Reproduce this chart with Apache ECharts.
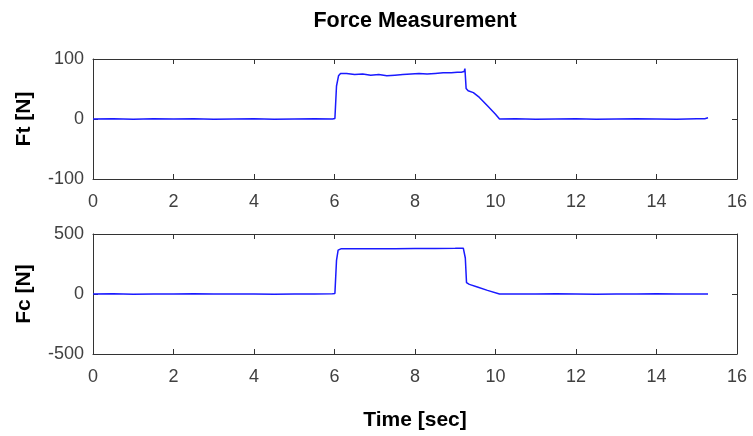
<!DOCTYPE html>
<html>
<head>
<meta charset="utf-8">
<script src="https://cdn.jsdelivr.net/npm/echarts@6/dist/echarts.min.js"></script>
<style>
html,body{margin:0;padding:0;background:#fff;}
#chart{width:753px;height:436px;}
</style>
</head>
<body>
<div id="chart"></div>
<script>
// ---- data ----
const titleText = 'Force Measurement';
const xLabel = 'Time [sec]';
const ftLabel = 'Ft [N]';
const fcLabel = 'Fc [N]';

const ftTime = [0, 0.5, 1, 1.5, 2, 2.5, 3, 3.5, 4, 4.5, 5, 5.5, 5.95, 6.01, 6.05, 6.1, 6.15, 6.3, 6.5, 6.7, 6.9, 7.1, 7.3, 7.5, 7.7, 7.9, 8.1, 8.3, 8.5, 8.7, 8.9, 9.05, 9.15, 9.22, 9.24, 9.27, 9.32, 9.45, 9.6, 9.8, 10.0, 10.1, 10.5, 11, 11.5, 12, 12.5, 13, 13.5, 14, 14.5, 15, 15.2, 15.28];
const ftValues = [0, 0.5, -0.5, 0.5, 0, 0.5, -0.5, 0, 0.5, -0.5, 0, 0.5, 0, 1, 55, 72, 76, 76, 74, 75, 73, 74, 72, 73, 74, 75, 76, 75, 76, 77, 77, 78, 78, 79, 84, 51, 47, 44, 36, 22, 8, 0, 0.5, -0.5, 0, 0.5, -0.5, 0, 0.5, 0, -0.5, 0.5, 0.5, 2];

const fcTime = [0, 0.5, 1, 1.5, 2, 2.5, 3, 3.5, 4, 4.5, 5, 5.5, 5.95, 6.01, 6.05, 6.09, 6.17, 6.5, 7, 7.5, 8, 8.5, 9, 9.2, 9.25, 9.28, 9.35, 9.55, 9.8, 10.1, 10.5, 11, 11.5, 12, 12.5, 13, 13.5, 14, 14.5, 15, 15.28];
const fcValues = [0, 2, -2, 1, 0, 2, -1, 1, 0, -2, 1, 0, 2, 5, 280, 365, 378, 377, 378, 377, 379, 380, 381, 382, 300, 95, 80, 58, 30, 0, 1, -1, 2, 0, -2, 1, 0, 2, -1, 1, 0];

const xTicks = [0, 2, 4, 6, 8, 10, 12, 14, 16];
const ftRange = [-100, 100];
const fcRange = [-500, 500];

// ---- chart ----
const axisColor = '#333333';
const labelColor = '#404040';
const lineColor = '#1a1aff';
const font = 'Liberation Sans, Arial, Helvetica, sans-serif';

function pairs(t, v) { return t.map((x, i) => [x, v[i]]); }

function xAx(grid, bottom, withLabels, name) {
  return {
    type: 'value', gridIndex: grid, position: bottom ? 'bottom' : 'top',
    min: xTicks[0], max: xTicks[xTicks.length - 1], interval: xTicks[1] - xTicks[0],
    axisLine: { show: true, onZero: false, lineStyle: { color: axisColor, width: 1 } },
    axisTick: { show: true, inside: true, length: 5, lineStyle: { color: axisColor } },
    axisLabel: { show: withLabels, color: labelColor, fontSize: 18, fontFamily: font, margin: 14 },
    splitLine: { show: false },
    name: name || '', nameLocation: 'middle', nameGap: 56,
    nameTextStyle: { color: '#000', fontSize: 21, fontWeight: 'bold', fontFamily: font }
  };
}
function yAx(grid, left, range, name) {
  return {
    type: 'value', gridIndex: grid, position: left ? 'left' : 'right',
    min: range[0], max: range[1], interval: (range[1] - range[0]) / 2,
    axisLine: { show: true, onZero: false, lineStyle: { color: axisColor, width: 1 } },
    axisTick: { show: true, inside: true, length: 5, lineStyle: { color: axisColor } },
    axisLabel: { show: left, color: labelColor, fontSize: 18, fontFamily: font, margin: 9 },
    splitLine: { show: false },
    name: left ? name : '', nameLocation: 'middle', nameGap: 58, nameRotate: 90,
    nameTextStyle: { color: '#000', fontSize: 21, fontWeight: 'bold', fontFamily: font }
  };
}

const chart = echarts.init(document.getElementById('chart'), null, { renderer: 'canvas' });
chart.setOption({
  animation: false,
  backgroundColor: '#ffffff',
  title: {
    text: titleText, left: 410, top: 5, textAlign: 'center',
    textStyle: { fontSize: 21.5, fontWeight: 'bold', color: '#000', fontFamily: font }
  },
  grid: [
    { left: 93, top: 59, width: 644, height: 120 },
    { left: 93, top: 234, width: 644, height: 120 }
  ],
  xAxis: [
    xAx(0, true, true), xAx(0, false, false),
    xAx(1, true, true, xLabel), xAx(1, false, false)
  ],
  yAxis: [
    yAx(0, true, ftRange, ftLabel), yAx(0, false, ftRange),
    yAx(1, true, fcRange, fcLabel), yAx(1, false, fcRange)
  ],
  series: [
    { type: 'line', xAxisIndex: 0, yAxisIndex: 0, data: pairs(ftTime, ftValues),
      showSymbol: false, lineStyle: { color: lineColor, width: 1.5 } },
    { type: 'line', xAxisIndex: 2, yAxisIndex: 2, data: pairs(fcTime, fcValues),
      showSymbol: false, lineStyle: { color: lineColor, width: 1.5 } }
  ]
});
</script>
</body>
</html>
